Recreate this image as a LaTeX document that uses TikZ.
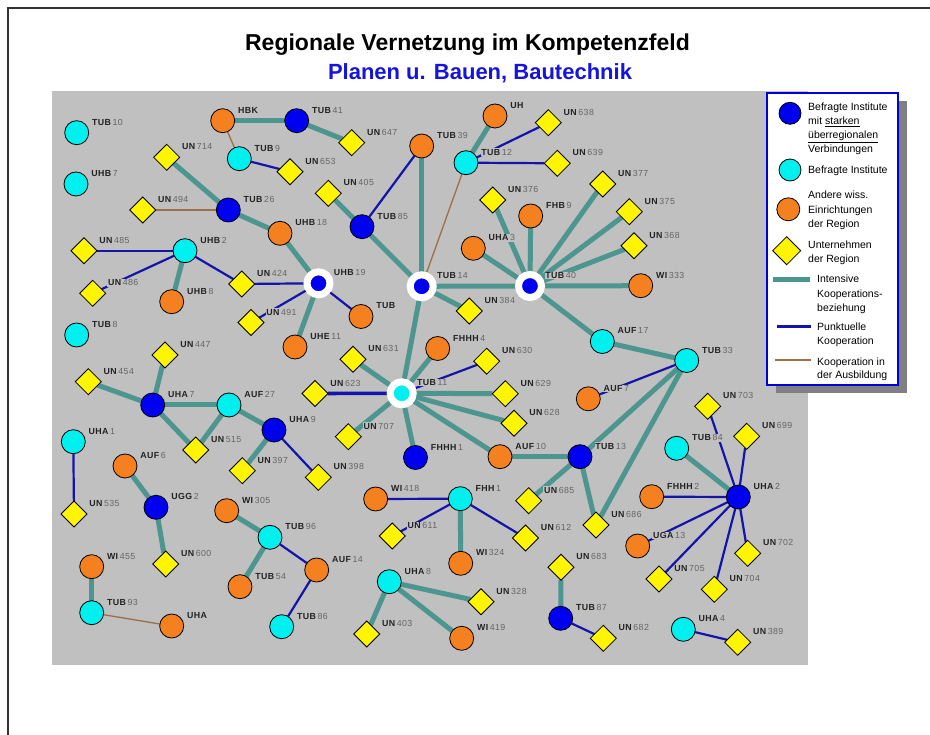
\documentclass[tikz,border=0pt]{standalone}
\usepackage{fontspec}
\setmainfont{Liberation Sans}
\newfontfamily\labfont[LetterSpace=5]{Liberation Sans}
\usetikzlibrary{shapes.geometric}

\definecolor{panelgray}{RGB}{192,192,192}
\definecolor{shadowgray}{RGB}{128,128,128}
\definecolor{linkteal}{RGB}{77,150,143}
\definecolor{linkblue}{RGB}{20,20,170}
\definecolor{linkbrown}{RGB}{160,110,70}
\definecolor{fillblue}{RGB}{0,0,240}
\definecolor{fillcyan}{RGB}{0,240,240}
\definecolor{fillorange}{RGB}{245,128,32}
\definecolor{fillyellow}{RGB}{255,245,0}
\definecolor{legendblue}{RGB}{0,0,220}
\definecolor{subtitleblue}{RGB}{20,20,220}
\definecolor{prefixgray}{RGB}{35,35,35}
\definecolor{numgray}{RGB}{100,100,100}

\pgfdeclarelayer{panel}
\pgfdeclarelayer{links}
\pgfdeclarelayer{tags}
\pgfsetlayers{panel,links,tags,main}

\tikzset{
  shapebase/.style={draw=black, line width=0.8pt, inner sep=0pt, outer sep=0pt},
  bnode/.style={shapebase, circle, minimum size=24pt, fill=fillblue},
  cnode/.style={shapebase, circle, minimum size=24pt, fill=fillcyan},
  onode/.style={shapebase, circle, minimum size=24pt, fill=fillorange},
  ynode/.style={shapebase, diamond, minimum width=26pt, minimum height=26pt, fill=fillyellow},
  hubb/.style={circle, inner sep=0pt, outer sep=0pt, minimum size=23pt, fill=fillblue, draw=white, line width=7pt},
  hubc/.style={hubb, fill=fillcyan},
  tag/.style={anchor=west, fill=panelgray, inner sep=0.6pt, text=prefixgray,
    font=\labfont\fontsize{8.8}{10}\selectfont},
  strong/.style={draw=linkteal, line width=5pt},
  point/.style={draw=linkblue, line width=2.2pt},
  train/.style={draw=linkbrown, line width=1.3pt},
  legtext/.style={anchor=base west, inner sep=0pt, font=\fontsize{10.5}{12}\selectfont},
  headline/.style={anchor=base, font=\bfseries\fontsize{23}{27}\selectfont},
}

% institution node with its name tag (style, name, x, y, letters, number)
\newcommand\placenode[6]{%
  \node[#1] (#2) at (#3,#4) {};
  \begin{pgfonlayer}{tags}
    \node[tag] (#2-t) at (#3+14.5,#4-10.5) {\textbf{#5}\hspace{1.2pt}{\color{numgray}#6}};
  \end{pgfonlayer}}

\begin{document}
\begin{tikzpicture}[x=1pt,y=-1pt]
\useasboundingbox (0,0) rectangle (930,735);

% page frame
\coordinate (fa) at (8,735);
\coordinate (fb) at (8,8);
\coordinate (fc) at (930,8);
\draw[line width=1.5pt, black!80] (fa) -- (fb) -- (fc);

% titles
\node[headline] (title) at (467.5,50.5) {Regionale Vernetzung im Kompetenzfeld};
\node[headline, font=\bfseries\fontsize{22}{26}\selectfont, text=subtitleblue] (subtitle) at (480,79.5)
  {Planen u. Bauen, Bautechnik};

% grey panel
\begin{pgfonlayer}{panel}
  \fill[panelgray] (52,91) rectangle (808,665);
\end{pgfonlayer}

% blue: surveyed institutes with strong supra-regional links
\placenode{bnode}{TUB41}{296.7}{120.7}{TUB}{41}
\placenode{bnode}{TUB26}{228.3}{210}{TUB}{26}
\placenode{bnode}{TUB85}{362}{226.7}{TUB}{85}
\placenode{bnode}{UHA7}{152.7}{405}{UHA}{7}
\placenode{bnode}{UHA9}{274}{430}{UHA}{9}
\placenode{bnode}{UGG2}{156}{507.3}{UGG}{2}
\placenode{bnode}{FHHH1}{415.5}{457.5}{FHHH}{1}
\placenode{bnode}{TUB13}{580}{456.7}{TUB}{13}
\placenode{bnode}{UHA2}{738.3}{497}{UHA}{2}
\placenode{bnode}{TUB87}{560.7}{618.3}{TUB}{87}
% hubs
\placenode{hubb}{UHB19}{318.5}{283.3}{UHB}{19}
\placenode{hubb}{TUB14}{421.7}{286.3}{TUB}{14}
\placenode{hubb}{TUB40}{530}{286}{TUB}{40}
\placenode{hubc}{TUB11}{401.7}{393.3}{TUB}{11}
% cyan: surveyed institutes
\placenode{cnode}{TUB10}{76.7}{132.7}{TUB}{10}
\placenode{cnode}{UHB7}{76}{184}{UHB}{7}
\placenode{cnode}{TUB9}{239.3}{158.7}{TUB}{9}
\placenode{cnode}{UHB2}{185}{250.7}{UHB}{2}
\placenode{cnode}{TUB12}{466}{162.7}{TUB}{12}
\placenode{cnode}{TUB8}{76.7}{335}{TUB}{8}
\placenode{cnode}{AUF27}{229}{405}{AUF}{27}
\placenode{cnode}{UHA1}{73.3}{441.7}{UHA}{1}
\placenode{cnode}{AUF17}{602.3}{341.5}{AUF}{17}
\placenode{cnode}{TUB33}{686.7}{360.5}{TUB}{33}
\placenode{cnode}{TUB84}{676.7}{448.3}{TUB}{84}
\placenode{cnode}{TUB96}{270}{537.3}{TUB}{96}
\placenode{cnode}{TUB93}{91.7}{612.7}{TUB}{93}
\placenode{cnode}{TUB86}{281.7}{626.7}{TUB}{86}
\placenode{cnode}{FHH1}{460.3}{498.7}{FHH}{1}
\placenode{cnode}{UHA8}{389.3}{581.7}{UHA}{8}
\placenode{cnode}{UHA4}{683.3}{629.3}{UHA}{4}
% orange: other research institutions
\placenode{onode}{HBK}{222.7}{120.7}{HBK}{}
\placenode{onode}{TUB39}{421.7}{146}{TUB}{39}
\placenode{onode}{UH}{495}{116}{UH}{}
\placenode{onode}{UHB18}{280}{233.3}{UHB}{18}
\placenode{onode}{FHB9}{530.7}{216}{FHB}{9}
\placenode{onode}{UHA3}{473.3}{248.3}{UHA}{3}
\placenode{onode}{WI333}{640.7}{285.7}{WI}{333}
\placenode{onode}{UHB8}{171.7}{301.7}{UHB}{8}
\placenode{onode}{TUB}{361}{316.5}{TUB}{}
\placenode{onode}{UHE11}{295}{347}{UHE}{11}
\placenode{onode}{FHHH4}{437.7}{348.5}{FHHH}{4}
\placenode{onode}{AUF7}{588.3}{398.8}{AUF}{7}
\placenode{onode}{AUF10}{500}{456.7}{AUF}{10}
\placenode{onode}{AUF6}{125}{466}{AUF}{6}
\placenode{onode}{WI305}{226.7}{510.7}{WI}{305}
\placenode{onode}{AUF14}{316.7}{570}{AUF}{14}
\placenode{onode}{TUB54}{240}{586.7}{TUB}{54}
\placenode{onode}{WI455}{91.7}{566.7}{WI}{455}
\placenode{onode}{UHA}{171.7}{626}{UHA}{}
\placenode{onode}{WI418}{375.7}{499}{WI}{418}
\placenode{onode}{WI324}{460.7}{563.3}{WI}{324}
\placenode{onode}{WI419}{461.7}{638.3}{WI}{419}
\placenode{onode}{FHHH2}{651.7}{496.7}{FHHH}{2}
\placenode{onode}{UGA13}{637.7}{546}{UGA}{13}
% yellow: companies
\placenode{ynode}{UN647}{351.7}{142.7}{UN}{647}
\placenode{ynode}{UN653}{290}{171.7}{UN}{653}
\placenode{ynode}{UN714}{166.7}{157.3}{UN}{714}
\placenode{ynode}{UN494}{142.7}{210}{UN}{494}
\placenode{ynode}{UN485}{84}{250.7}{UN}{485}
\placenode{ynode}{UN486}{92.7}{293.3}{UN}{486}
\placenode{ynode}{UN424}{241.7}{284}{UN}{424}
\placenode{ynode}{UN491}{251}{322.5}{UN}{491}
\placenode{ynode}{UN405}{328.3}{193.3}{UN}{405}
\placenode{ynode}{UN638}{548.3}{122.7}{UN}{638}
\placenode{ynode}{UN639}{557.3}{163.3}{UN}{639}
\placenode{ynode}{UN376}{492.7}{200}{UN}{376}
\placenode{ynode}{UN377}{602.7}{184}{UN}{377}
\placenode{ynode}{UN375}{629.3}{211.7}{UN}{375}
\placenode{ynode}{UN368}{634}{245.7}{UN}{368}
\placenode{ynode}{UN384}{469.3}{311}{UN}{384}
\placenode{ynode}{UN447}{165}{355}{UN}{447}
\placenode{ynode}{UN454}{88.3}{381.7}{UN}{454}
\placenode{ynode}{UN515}{195.7}{450}{UN}{515}
\placenode{ynode}{UN397}{242.3}{470.7}{UN}{397}
\placenode{ynode}{UN398}{318.3}{477.3}{UN}{398}
\placenode{ynode}{UN535}{74}{514}{UN}{535}
\placenode{ynode}{UN600}{165.7}{564}{UN}{600}
\placenode{ynode}{UN631}{353}{359.3}{UN}{631}
\placenode{ynode}{UN630}{486.7}{361.2}{UN}{630}
\placenode{ynode}{UN623}{315}{393.5}{UN}{623}
\placenode{ynode}{UN629}{505.3}{393.7}{UN}{629}
\placenode{ynode}{UN628}{514}{423.3}{UN}{628}
\placenode{ynode}{UN707}{348.3}{436.7}{UN}{707}
\placenode{ynode}{UN685}{528.7}{500.7}{UN}{685}
\placenode{ynode}{UN686}{596}{525}{UN}{686}
\placenode{ynode}{UN611}{392.3}{536}{UN}{611}
\placenode{ynode}{UN612}{525.5}{538}{UN}{612}
\placenode{ynode}{UN683}{561}{567.3}{UN}{683}
\placenode{ynode}{UN328}{481}{601.7}{UN}{328}
\placenode{ynode}{UN403}{366.7}{634}{UN}{403}
\placenode{ynode}{UN682}{603.3}{638.3}{UN}{682}
\placenode{ynode}{UN703}{707.7}{406.3}{UN}{703}
\placenode{ynode}{UN699}{746.7}{436.3}{UN}{699}
\placenode{ynode}{UN702}{747.7}{553.3}{UN}{702}
\placenode{ynode}{UN705}{659}{579}{UN}{705}
\placenode{ynode}{UN704}{714.3}{589.3}{UN}{704}
\placenode{ynode}{UN389}{737.7}{642.3}{UN}{389}

\begin{pgfonlayer}{links}
  % intensive cooperation
  \foreach \a/\b in {HBK/TUB41, TUB41/UN647, UN714/TUB26, TUB26/UHB18, UHB18/UHB19,
      UHB2/UHB8, UN405/TUB85, TUB85/TUB14, TUB39/TUB14, UH/TUB12,
      UN376/TUB40, FHB9/TUB40, UHA3/TUB40, UN377/TUB40, UN375/TUB40, UN368/TUB40,
      WI333/TUB40, TUB14/TUB40, TUB40/AUF17, AUF17/TUB33, TUB33/TUB13, TUB33/UN686,
      TUB14/UN384, TUB14/TUB11, UHB19/UHE11, TUB11/UN631, TUB11/FHHH4, TUB11/UN629,
      TUB11/UN628, TUB11/UN707, TUB11/FHHH1, TUB11/AUF10, AUF10/TUB13, TUB13/UN685,
      TUB13/UN686, UN454/UHA7, UN447/UHA7, UHA7/AUF27, UHA7/UN515, AUF27/UN515,
      AUF27/UHA9, UHA9/UN397, AUF6/UGG2, UGG2/UN600, WI305/TUB96, TUB96/TUB54,
      WI455/TUB93, FHH1/WI324, UHA8/UN328, UHA8/UN403, UHA8/WI419, UN683/TUB87,
      TUB84/UHA2}
    \draw[strong] (\a) -- (\b);
  % occasional cooperation
  \foreach \a/\b in {TUB9/UN653, UN485/UHB2, UHB2/UN486, UHB2/UN424, UN424/UHB19,
      TUB85/TUB39, TUB12/UN638, TUB12/UN639, TUB33/AUF7, UHB19/TUB, UHB19/UN491,
      TUB11/UN630, UHA9/UN398, UHA1/UN535, TUB96/AUF14, AUF14/TUB86, WI418/FHH1,
      FHH1/UN611, FHH1/UN612, TUB87/UN682, UN703/UHA2, UN699/UHA2, FHHH2/UHA2,
      UGA13/UHA2, UN705/UHA2, UN704/UHA2, UN702/UHA2, UHA4/UN389}
    \draw[point] (\a) -- (\b);
  \draw[point, line width=3.6pt] (TUB11) -- (UN623);
  % cooperation in vocational training
  \foreach \a/\b in {HBK/TUB9, UN494/TUB26, TUB12/TUB14, TUB93/UHA}
    \draw[train] (\a) -- (\b);
\end{pgfonlayer}

% legend
\fill[shadowgray] (776,101) rectangle (907,393);
\draw[legendblue, line width=2pt, fill=white] (767,93) rectangle (898,385);
\node[bnode, minimum size=22pt] (legB) at (790,113.3) {};
\node[legtext] (legB1) at (808,110.5) {Befragte Institute};
\node[legtext] (legB2) at (808,124.5) {mit \underline{starken}};
\node[legtext] (legB3) at (808,138.3) {\underline{überregionalen}};
\node[legtext] (legB4) at (808,152.8) {Verbindungen};
\node[cnode, minimum size=22pt] (legC) at (790,170) {};
\node[legtext] (legC1) at (808,173.8) {Befragte Institute};
\node[onode, minimum size=23pt] (legO) at (788.3,209.3) {};
\node[legtext] (legO1) at (808,198.8) {Andere wiss.};
\node[legtext] (legO2) at (808,213.1) {Einrichtungen};
\node[legtext] (legO3) at (808,227.1) {der Region};
\node[ynode, minimum width=28pt, minimum height=28pt] (legY) at (786.7,250.7) {};
\node[legtext] (legY1) at (808,248.1) {Unternehmen};
\node[legtext] (legY2) at (808,262.1) {der Region};
\coordinate (lt1) at (773.3,280);
\coordinate (lt2) at (810,280);
\draw[strong] (lt1) -- (lt2);
\node[legtext] (legT1) at (817,282.8) {Intensive};
\node[legtext] (legT2) at (817,297.1) {Kooperations-};
\node[legtext] (legT3) at (817,311.5) {beziehung};
\coordinate (lp1) at (776.7,326.7);
\coordinate (lp2) at (810.7,326.7);
\draw[point, line width=2.5pt] (lp1) -- (lp2);
\node[legtext] (legP1) at (817,330.5) {Punktuelle};
\node[legtext] (legP2) at (817,344.5) {Kooperation};
\coordinate (lr1) at (775,360);
\coordinate (lr2) at (810.7,360);
\draw[train] (lr1) -- (lr2);
\node[legtext] (legR1) at (817,365.5) {Kooperation in};
\node[legtext] (legR2) at (817,378.8) {der Ausbildung};
\end{tikzpicture}
\end{document}
